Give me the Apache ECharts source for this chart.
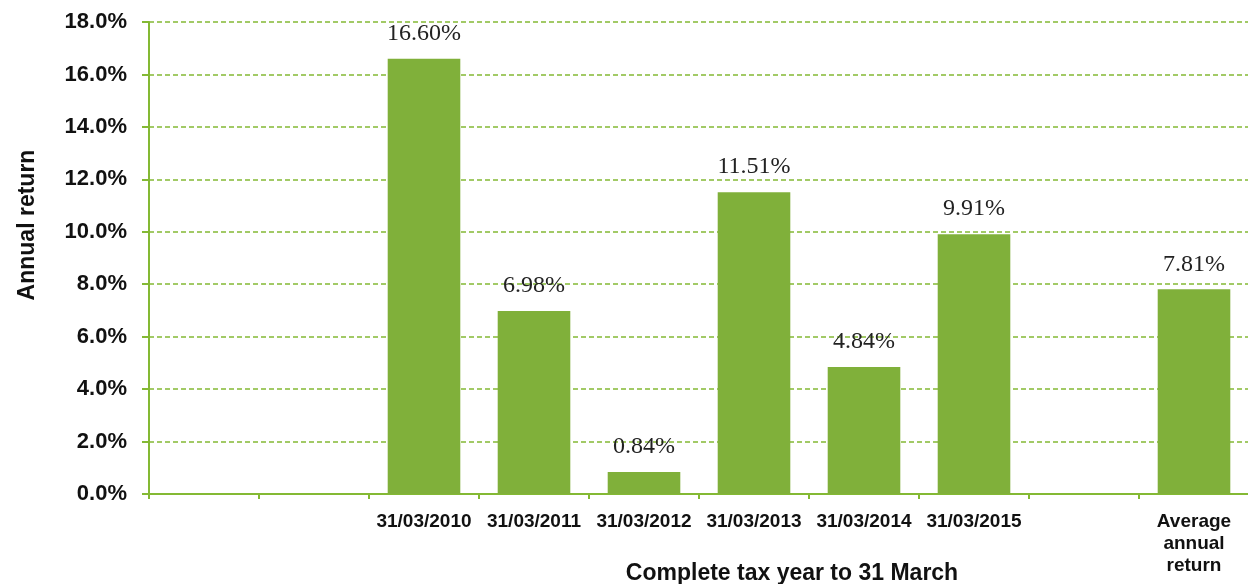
<!DOCTYPE html>
<html>
<head>
<meta charset="utf-8">
<script src="https://cdn.jsdelivr.net/npm/echarts@6/dist/echarts.min.js"></script>
<style>
html,body{margin:0;padding:0;background:#fff;}
#chart{width:1248px;height:584px;}
</style>
</head>
<body>
<div id="chart"></div>
<script>
var categories = ['', '', '31/03/2010', '31/03/2011', '31/03/2012', '31/03/2013', '31/03/2014', '31/03/2015', '', 'Average\nannual\nreturn'];
var returns = [null, null, 16.60, 6.98, 0.84, 11.51, 4.84, 9.91, null, 7.81];
var yMin = 0, yMax = 18, yStep = 2;
var xTitle = 'Complete tax year to 31 March';
var yTitle = 'Annual return';

var green = '#80B03A';
var lineGreen = '#84B934';
var chart = echarts.init(document.getElementById('chart'));
chart.setOption({
  animation: false,
  backgroundColor: '#ffffff',
  grid: { left: 149, right: -1, top: 22, bottom: 90, containLabel: false, outerBoundsMode: 'none' },
  xAxis: {
    type: 'category',
    data: categories,
    name: xTitle,
    nameLocation: 'middle',
    nameGap: 68,
    nameMoveOverlap: false,
    nameTextStyle: { fontFamily: 'Liberation Sans', fontWeight: 'bold', fontSize: 23, color: '#111', padding: [0, 0, 0, 186] },
    axisLine: { show: true, lineStyle: { color: lineGreen, width: 2 } },
    axisTick: { show: true, length: 5, lineStyle: { color: lineGreen, width: 2 } },
    axisLabel: { interval: 0, margin: 17, fontFamily: 'Liberation Sans', fontWeight: 'bold', fontSize: 19, lineHeight: 22, color: '#111' },
    splitLine: { show: false }
  },
  yAxis: {
    type: 'value',
    min: yMin, max: yMax, interval: yStep,
    name: yTitle,
    nameLocation: 'middle',
    nameRotate: 90,
    nameGap: 110,
    nameMoveOverlap: false,
    nameTextStyle: { fontFamily: 'Liberation Sans', fontWeight: 'bold', fontSize: 23, color: '#111', padding: [0, 0, 0, 66] },
    axisLine: { show: true, lineStyle: { color: lineGreen, width: 2 } },
    axisTick: { show: true, length: 7, lineStyle: { color: lineGreen, width: 2 } },
    axisLabel: { margin: 22, fontFamily: 'Liberation Sans', fontWeight: 'bold', fontSize: 22, color: '#111',
      formatter: function (v) { return v.toFixed(1) + '%'; } },
    splitLine: { show: true, lineStyle: { color: lineGreen, width: 1.5, type: [5, 3] } }
  },
  series: [{
    type: 'bar',
    data: returns,
    barCategoryGap: '34%',
    itemStyle: { color: green },
    label: {
      show: true, position: 'top', distance: 13,
      fontFamily: 'Liberation Serif', fontSize: 24, color: '#222',
      formatter: function (p) { return p.value == null ? '' : p.value.toFixed(2) + '%'; }
    }
  }]
});
</script>
</body>
</html>
